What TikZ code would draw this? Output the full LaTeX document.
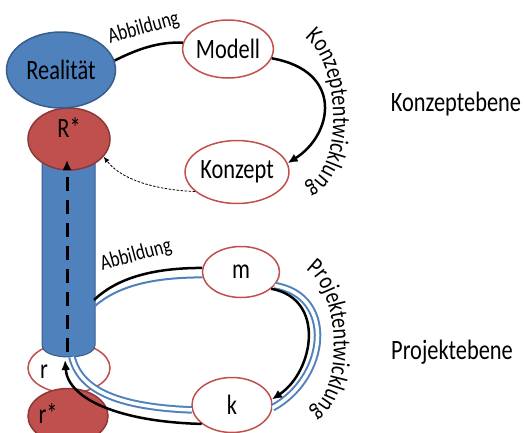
\documentclass[tikz,border=0pt]{standalone}
\usepackage{fontspec}
\setmainfont{Carlito}[FakeStretch=0.8]
\usetikzlibrary{shapes.geometric,arrows.meta,decorations.text}
\definecolor{ofblau}{RGB}{79,129,189}
\definecolor{ofblaurand}{RGB}{56,93,138}
\definecolor{ofrot}{RGB}{192,80,77}
\definecolor{ofrotrand}{RGB}{140,56,54}
\newcommand{\grossschrift}{\fontsize{28}{32}\selectfont}
\newcommand{\kleinschrift}{\fontsize{22}{26}\selectfont}
\newcommand{\bogenschrift}{\fontsize{25}{28}\selectfont}
\tikzset{
  ell/.style={ellipse, inner sep=0pt, font=\grossschrift, line width=1.5pt},
  blauell/.style={ell, fill=ofblau, draw=ofblaurand},
  rotell/.style={ell, fill=ofrot, draw=ofrotrand},
  weissell/.style={ell, fill=white, draw=ofrot},
  linie/.style={line width=2.5pt},
  pfeil/.style={linie, ->},
  blaulinie/.style={ofblau, line width=2pt},
  blaudoppel/.style={draw=ofblau, line width=2pt, double=white, double distance=3.5pt},
  bogentext/.style={decorate, decoration={text along path, text align=center, text={|\bogenschrift|#1}}}
}
\begin{document}
\begin{tikzpicture}[x=1pt,y=-1pt,>={Latex[length=10pt,width=9pt]}]
    \useasboundingbox (0,0) rectangle (525,432);
    \node[weissell, minimum width=82pt, minimum height=50pt, label={[font=\grossschrift, xshift=-25pt, yshift=-4pt]center:r}] (r) at (69,368) {};
    \node[rotell, minimum width=80pt, minimum height=55pt, label={[font=\grossschrift, xshift=-20pt, yshift=2pt]center:r*}] (rstern) at (68,416) {};
    \fill[ofblau, draw=ofblaurand, line width=1pt] (42,150) -- (42,345) .. controls (42,361) and (95,361) .. (95,345) -- (95,150) -- cycle;
    \coordinate (saeuleA) at (94,300);
    \coordinate (saeuleB) at (95,306);
    \coordinate (saeuleU) at (67,352);
    \coordinate (saeuleK) at (72,357);
    \coordinate (rspitze) at (65,360);
    \coordinate (Rspitze) at (67,160);
    \node[rotell, minimum width=82pt, minimum height=62pt, label={[font=\grossschrift, yshift=11pt]center:R*}] (Rstern) at (69,139) {};
    \node[blauell, minimum width=109pt, minimum height=76pt] (real) at (61,70) {Realität};
    \node[weissell, minimum width=83pt, minimum height=58pt] (modell) at (228,49) {Modell};
    \node[weissell, minimum width=100pt, minimum height=63pt] (konzept) at (237,172) {Konzept};
    \node[weissell, minimum width=77pt, minimum height=51pt] (m) at (241,272) {m};
    \node[weissell, minimum width=80pt, minimum height=55pt] (k) at (232,405) {k};
    \node[font=\grossschrift] (kebene) at (456,104) {Konzeptebene};
    \node[font=\grossschrift] (pebene) at (452,352) {Projektebene};
    \draw[linie] (real.10) .. controls +(24,-12) and +(-24,-1) .. (modell.172) node[midway, above=5pt, sloped, font=\kleinschrift] {Abbildung};
    \draw[pfeil] (modell.-12) .. controls +(73,13) and +(45,-28) .. (konzept.10);
    \path[bogentext=Konzeptentwicklung] (298,34) .. controls (343,52) and (347,182) .. (298,188);
    \draw[->, line width=0.8pt, dash pattern=on 2.5pt off 1.5pt, >={Latex[length=6pt,width=5pt]}] (konzept.205) .. controls +(-45,-2) and +(16,21) .. (Rstern.-27);
    \draw[pfeil, line width=3pt, dash pattern=on 14pt off 9pt] (saeuleU) -- (Rspitze);
    \draw[blaulinie] (saeuleB) .. controls +(23,-20) and +(-50,0) .. (m.188);
    \draw[linie] (saeuleA) .. controls +(21,-20) and +(-54,0) .. (m.174) node[pos=0.55, above=6pt, sloped, font=\kleinschrift] {Abbildung};
    \draw[blaudoppel] (m.-22) .. controls +(62,10) and +(55,-30) .. (k.-4);
    \draw[pfeil] (m.-29) .. controls +(55,10) and +(42,-28) .. (k.8);
    \path[bogentext=Projektentwicklung] (298,266) .. controls (343,278) and (347,406) .. (302,414);
    \draw[blaudoppel] (k.187) .. controls +(-75,-3) and +(8,33) .. (saeuleK);
    \draw[pfeil] (k.212) .. controls +(-80,-2) and +(3,40) .. (rspitze);
\end{tikzpicture}
\end{document}
